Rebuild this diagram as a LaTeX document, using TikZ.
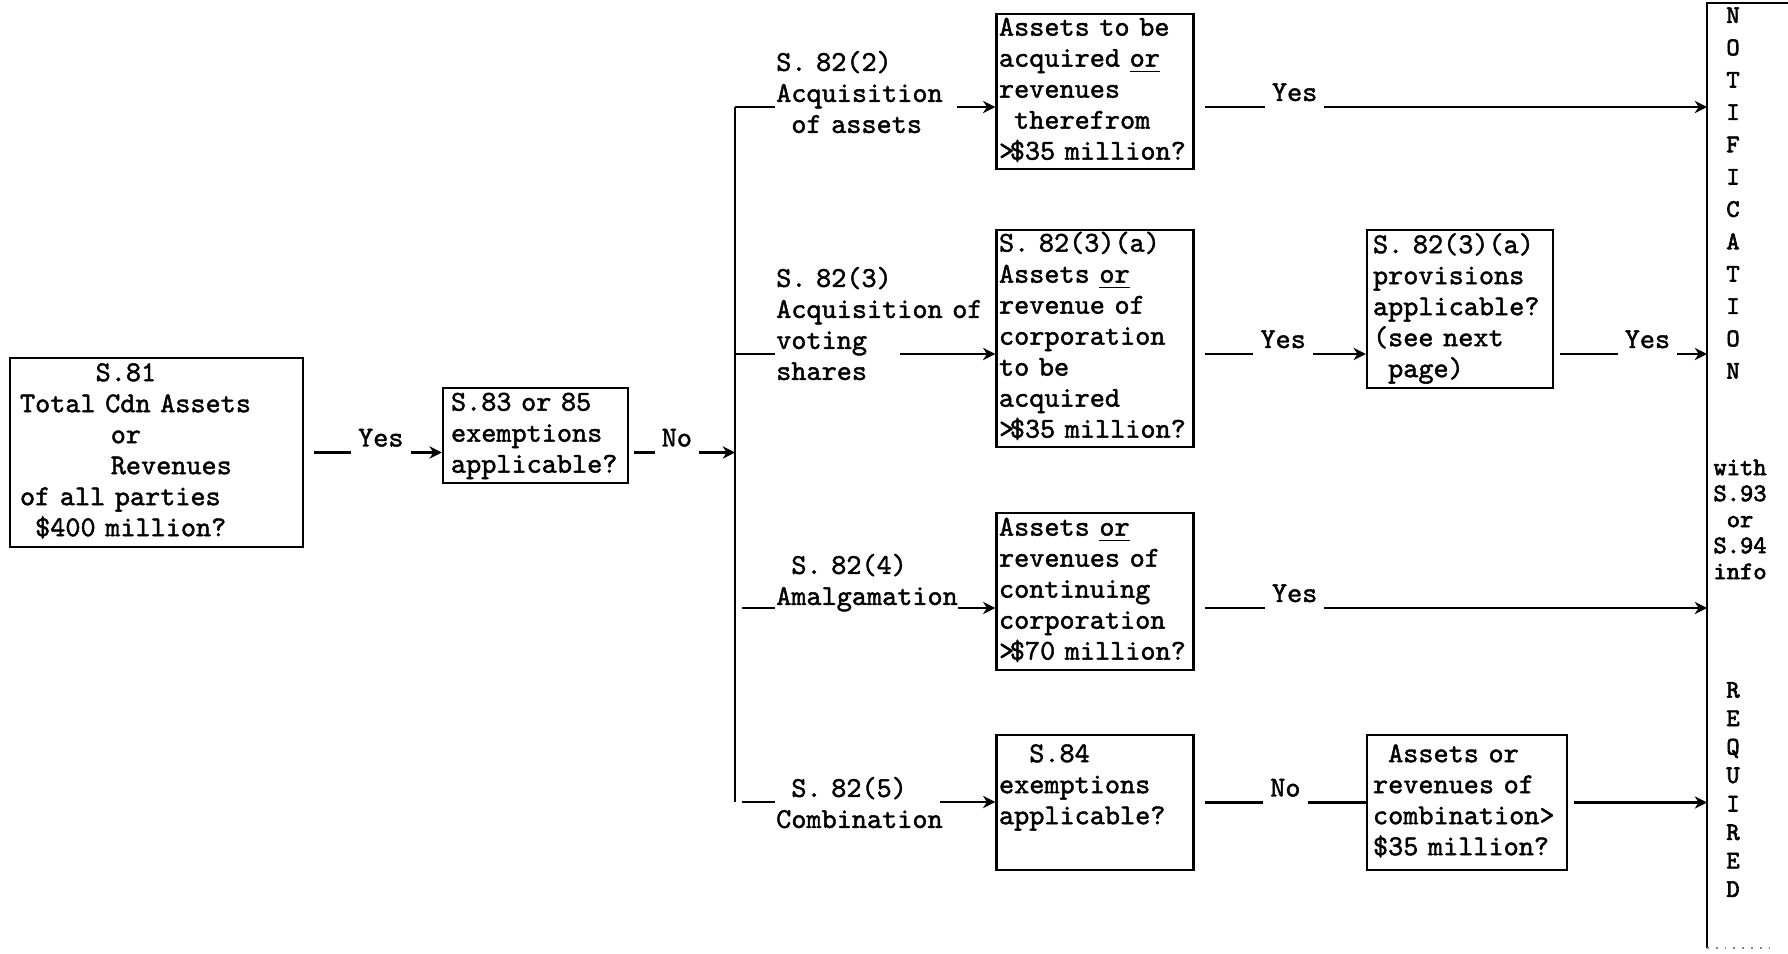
\documentclass[tikz,border=0pt]{standalone}
\usepackage{fontspec}
\newfontfamily\typemono[FakeBold=1.5]{lmmono10-regular.otf}
\newfontfamily\sidemono[FakeBold=2.5]{lmmono10-regular.otf}
\usepackage{tikz}
\usetikzlibrary{arrows.meta, positioning, calc}

\newcommand{\typed}{\typemono\fontsize{8.2pt}{8.82pt}\selectfont}
\newcommand{\indsp}[1]{\hspace*{#1\fontcharwd\font`x}}
\newcommand{\morethan}{>\kern-.15em\$}

\begin{document}
\begin{tikzpicture}[
  line width=0.7pt,
  box/.style={draw, font=\typed, align=left, inner xsep=0.06cm, inner ysep=0pt,
    execute at begin node=\strut, execute at end node=\strut},
  test/.style={box, inner xsep=0.025cm, text width=1.92cm},
  tag/.style={font=\typed, align=left, anchor=north west, inner sep=0pt,
    execute at begin node=\strut, execute at end node=\strut},
  yn/.style={font=\typed, fill=white, inner xsep=2pt, inner ysep=2.5pt, anchor=base, yshift=0.06cm},
  go/.style={-{Stealth[length=3.5pt,width=3.5pt]}, shorten <=0.1cm},
  side/.style={font=\sidemono\fontsize{7.2pt}{#1}\selectfont, align=center,
    text width=0.8cm, inner sep=0pt}
]
  \useasboundingbox (0,0) rectangle (17.88,9.53);

  % Threshold and exemption boxes
  \node[box, inner xsep=0.1cm, text width=2.73cm, minimum height=1.89cm] (s81) at (1.565,5.005)
    {\indsp{5}S.81\\Total Cdn Assets\\\indsp{6}or\\\indsp{6}Revenues\\of all parties\\\indsp{1}\$400 million?};
  \node[box, inner xsep=0.08cm, text width=1.69cm, minimum height=0.95cm] (s83) at (5.355,5.175)
    {S.83 or 85\\exemptions\\applicable?};

  % Section 82 tests
  \node[test, minimum height=1.55cm] (boxA) at (10.95,8.615)
    {Assets to be\\acquired \underline{or}\\revenues\\\indsp{1}therefrom\\\morethan35~million?};
  \node[test, minimum height=2.17cm] (boxB) at (10.95,6.145)
    {S. 82(3)(a)\\Assets \underline{or}\\revenue of\\corporation\\to be\\acquired\\\morethan35~million?};
  \node[box, text width=1.74cm, minimum height=1.58cm] (boxC) at (14.60,6.44)
    {S. 82(3)(a)\\provisions\\applicable?\\(see next\\\indsp{1}page)};
  \node[test, minimum height=1.57cm] (boxD) at (10.95,3.615)
    {Assets \underline{or}\\revenues of\\continuing\\corporation\\\morethan70~million?};
  \node[test, minimum height=1.35cm] (boxE) at (10.95,1.505)
    {\indsp{2}S.84\\exemptions\\applicable?\\};
  \node[box, text width=1.88cm, minimum height=1.35cm] (boxF) at (14.67,1.505)
    {\indsp{1}Assets or\\revenues of\\combination>\\\$35 million?};

  % Branch labels
  \node[tag, text width=1.75cm] (lab2) at (7.75,9.05) {S. 82(2)\\Acquisition\\\indsp{1}of assets};
  \node[tag, text width=2.20cm] (lab3) at (7.75,6.89) {S. 82(3)\\Acquisition of\\voting\\shares};
  \node[tag, text width=2.00cm] (lab4) at (7.75,4.02) {\indsp{1}S. 82(4)\\Amalgamation};
  \node[tag, text width=1.80cm] (lab5) at (7.75,1.79) {\indsp{1}S. 82(5)\\Combination};

  \coordinate (bartop) at (7.35,8.46);
  \coordinate (barbot) at (7.35,1.51);
  \coordinate (in2) at (9.57,8.46);
  \coordinate (in3) at (9.00,5.99);
  \coordinate (in4) at (9.58,3.45);
  \coordinate (in5) at (9.40,1.51);
  \coordinate (ntop) at (17.07,9.50);
  \coordinate (nbot) at (17.07,0.05);
  \coordinate (nedge) at (17.88,9.50);
  \coordinate (nfoot) at (17.75,0.05);

  % Branch bar
  \draw (bartop) -- (barbot);
  \draw (bartop) -- (lab2.west |- bartop);
  \draw (bartop |- in3) -- (lab3.west |- in3);
  \draw[shorten <=0.07cm] (bartop |- in4) -- (lab4.west |- in4);
  \draw[shorten <=0.07cm] (barbot) -- (lab5.west |- barbot);
  \foreach \s/\t in {in2/boxA, in3/boxB, in4/boxD, in5/boxE}{
    \draw[go, shorten <=0pt] (\s) -- (\t.west |- \s);
  }

  % Yes / No connectors
  \draw[go] (s81.east) -- node[yn, pos=0.557]{Yes} (s83.west |- s81.east);
  \draw[go, shorten <=0.05cm] (s83.east |- s81.east) -- node[yn, pos=0.45]{No} (bartop |- s81.east);
  \draw[go] (boxA.east |- in2) -- node[yn, pos=0.195]{Yes} (ntop |- in2);
  \draw[go] (boxB.east |- in3) -- node[yn, pos=0.517]{Yes} (boxC.west |- in3);
  \draw[go, shorten <=0.06cm] (boxC.east |- in3) -- node[yn, pos=0.61]{Yes} (ntop |- in3);
  \draw[go] (boxD.east |- in4) -- node[yn, pos=0.195]{Yes} (ntop |- in4);
  \draw[shorten <=0.1cm] (boxE.east) -- node[yn, pos=0.53]{No} (boxF.west);
  \draw[go, shorten <=0.06cm] (boxF.east) -- (ntop |- boxF.east);

  % Notification column
  \draw (nedge) -- (ntop) -- (nbot);
  \draw[gray, dotted, line width=0.5pt] (nbot) -- (nfoot);
  \node[side=9.2pt] (notif) at (17.33,7.60) {N\\O\\T\\I\\F\\I\\C\\A\\T\\I\\O\\N};
  \node[side=7.4pt] (withinfo) at (17.40,4.335) {with\\S.93\\or\\S.94\\info};
  \node[side=8.1pt] (reqd) at (17.33,1.635) {R\\E\\Q\\U\\I\\R\\E\\D};

\end{tikzpicture}
\end{document}
